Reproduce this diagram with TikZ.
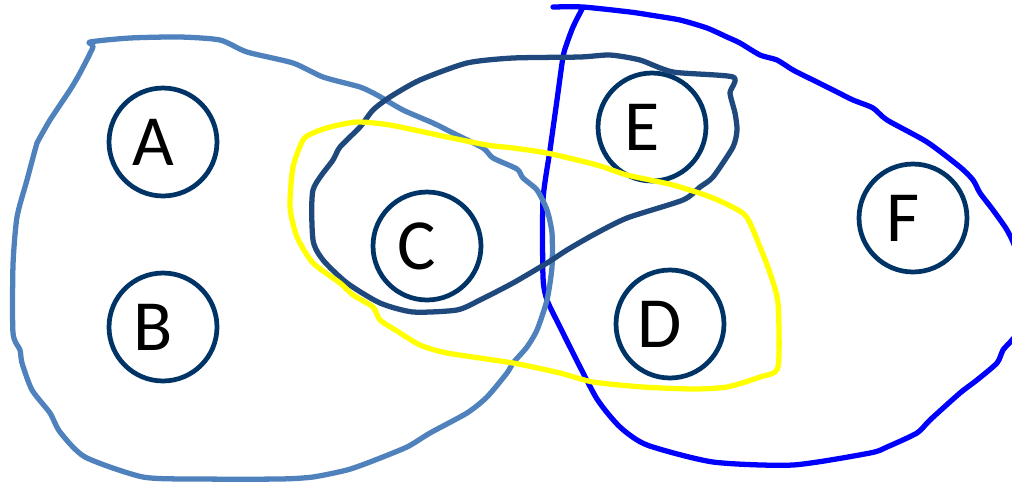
\documentclass[tikz,border=0pt]{standalone}
\usepackage{fontspec}
\setmainfont{Carlito}
\definecolor{vertexblue}{HTML}{003366}
\definecolor{edgelight}{HTML}{4F81BD}
\definecolor{edgedark}{HTML}{1F497D}
\definecolor{edgeyellow}{HTML}{FFFF00}
\definecolor{edgeblue}{HTML}{0000FF}

\begin{document}
\begin{tikzpicture}[x=0.02cm, y=-0.02cm,
    vertex/.style={circle, draw=vertexblue, line width=2.7pt, minimum size=2.16cm, inner sep=0pt},
    letter/.style={font=\fontsize{41}{41}\selectfont, text=black, xshift=-0.2cm},
    hedge/.style={line width=3pt, line join=round, line cap=round}
]
\useasboundingbox (0,0) rectangle (1012,485);
\clip (0,0) rectangle (1012,485);

% vertices
\node[vertex, label={[letter]center:A}] (A) at (163,142) {};
\node[vertex, label={[letter]center:B}] (B) at (163,327) {};
\node[vertex, label={[letter]center:C}] (C) at (427,246) {};
\node[vertex, label={[letter]center:E}] (E) at (652,127) {};
\node[vertex, label={[letter]center:D}] (D) at (670,324) {};
\node[vertex, label={[letter]center:F}] (F) at (913,218) {};

% hyperedges
\draw[hedge, edgeblue] plot[smooth, tension=0.4] coordinates {
    (553,7) (583,7) (630,12) (650,15) (680,20) (707,28) (727,37) (740,43)
    (760,55) (777,60) (793,70) (817,82) (837,92) (853,100) (873,108) (887,120)
    (927,142) (960,167) (973,180) (980,193) (993,210) (1007,230) (1016,250)
    (1024,290) (1020,328) (1012,340) (1003,350) (997,363) (977,380) (960,393)
    (930,420) (917,433) (887,447) (870,453) (793,465) (713,462) (647,445)
    (620,427) (597,399) (573,353) (560,327) (547,300) (543,277) (543,200)
    (550,150) (557,100) (563,57) (567,43) (573,27) (582,9)};

\draw[hedge, edgelight] plot[smooth cycle, tension=0.4] coordinates {
    (90,42) (130,38) (180,37) (220,40) (247,52) (293,63) (323,77) (360,87)
    (377,95) (403,110) (433,123) (453,133) (483,148) (493,158) (517,169)
    (523,178) (537,190) (547,210) (552,233) (552,267) (547,300) (537,330)
    (527,347) (513,363) (507,373) (487,397) (467,413) (430,433) (407,447)
    (370,462) (347,470) (313,477) (280,479) (200,479) (143,477) (85,457)
    (60,432) (50,413) (32,390) (22,363) (20,350) (13,333) (13,265) (17,217)
    (27,180) (35,150) (37,143) (50,120) (70,90) (80,73) (93,47)};

\draw[hedge, edgedark] plot[smooth cycle, tension=0.4] coordinates {
    (467,63) (513,58) (580,57) (610,55) (640,60) (673,72) (733,77) (730,93)
    (735,113) (737,130) (733,147) (713,177) (700,187) (683,200) (627,218)
    (593,235) (567,250) (547,263) (513,283) (480,300) (457,310) (413,312)
    (380,303) (347,283) (323,260) (313,240) (313,190) (333,160) (340,147)
    (360,127) (373,110) (390,97) (420,80)};

\draw[hedge, edgeyellow] plot[smooth cycle, tension=0.4] coordinates {
    (313,133) (330,127) (357,122) (390,125) (447,137) (487,145) (513,148)
    (547,153) (597,165) (627,175) (673,185) (713,198) (745,215) (760,247)
    (770,273) (778,303) (778,367) (760,377) (727,387) (693,389) (643,387)
    (593,382) (560,373) (513,363) (447,353) (420,345) (397,331) (380,320)
    (373,307) (353,295) (340,283) (313,263) (297,237) (290,207) (293,167)
    (303,140)};
\end{tikzpicture}
\end{document}
